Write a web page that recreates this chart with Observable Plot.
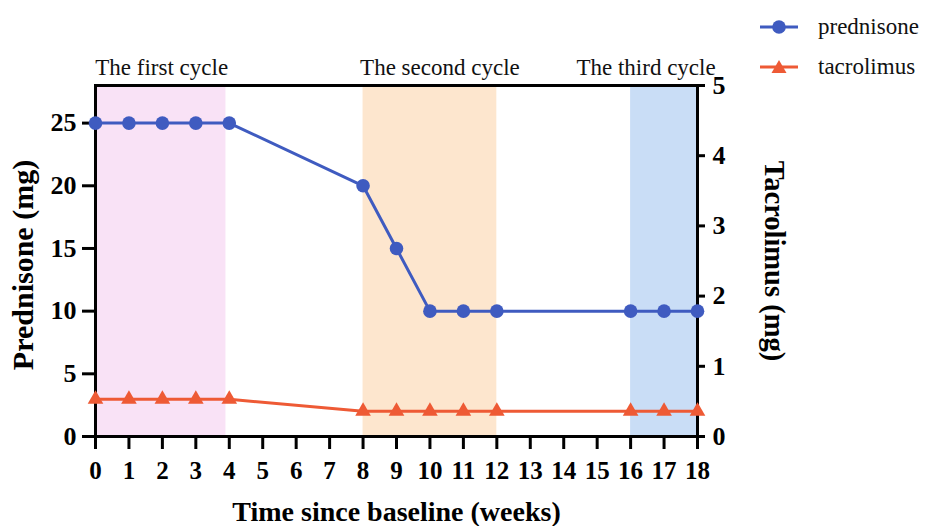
<!DOCTYPE html>
<html>
<head>
<meta charset="utf-8">
<script src="https://cdn.jsdelivr.net/npm/d3@7"></script>
<script src="https://cdn.jsdelivr.net/npm/@observablehq/plot@0.6"></script>
<style>
  body { margin: 0; background: white; }
  #wrap { position: relative; width: 927px; height: 526px; font-family: "Liberation Serif", "Times New Roman", serif; }
  #legend { position: absolute; left: 758px; top: 12px; font-size: 23px; color: #111; font-family: "Liberation Serif", "Times New Roman", serif; }
  #legend span { font-family: "Liberation Serif", "Times New Roman", serif; }
  .row { display: flex; align-items: center; height: 30px; margin-bottom: 10px; }
  .row svg { margin-right: 18px; }
</style>
</head>
<body>
<div id="wrap">
  <div id="chart"></div>
  <div id="legend"></div>
</div>
<script>
const weeks = [0, 1, 2, 3, 4, 8, 9, 10, 11, 12, 16, 17, 18];
const prednisone = [25, 25, 25, 25, 25, 20, 15, 10, 10, 10, 10, 10, 10];
const tacrolimus = [0.53, 0.53, 0.53, 0.53, 0.53, 0.36, 0.36, 0.36, 0.36, 0.36, 0.36, 0.36, 0.36];
const cycleLabels = ["The first cycle", "The second cycle", "The third cycle"];
const cycleStart = [0, 8, 16];
const cycleEnd = [3.9, 12, 18];
const xTicks = d3.range(0, 19);
const leftTicks = [0, 5, 10, 15, 20, 25];
const rightTicks = [0, 1, 2, 3, 4, 5];
const leftMax = 28, rightMax = 5;

const seriesNames = ["prednisone", "tacrolimus"];
const seriesColors = ["#3F5BC0", "#EE5A35"];
const bandColors = ["#F9E2F6", "#FDE6CE", "#C9DDF6"];
const cycleDx = [1, 10, -18];

const toLeft = v => v * leftMax / rightMax;
const pred = weeks.map((w, i) => ({week: w, value: prednisone[i]}));
const tac = weeks.map((w, i) => ({week: w, value: toLeft(tacrolimus[i])}));
const cycles = cycleLabels.map((l, i) => ({label: l, start: cycleStart[i], end: cycleEnd[i], mid: (cycleStart[i] + cycleEnd[i]) / 2}));

const font = "Liberation Serif";
const chart = Plot.plot({
  width: 927, height: 526,
  marginLeft: 95, marginRight: 230, marginTop: 85, marginBottom: 90,
  x: {domain: [0, 18]},
  y: {domain: [0, leftMax]},
  style: {fontFamily: font, background: "white", color: "black"},
  marks: [
    ...cycles.map((c, i) => Plot.rect([c], {x1: "start", x2: "end", fill: bandColors[i]})),
    Plot.frame({stroke: "black", strokeWidth: 3}),
    Plot.axisX({ticks: xTicks, tickSize: 13, tickPadding: 12, strokeWidth: 3, fontSize: 25, fontWeight: "bold", label: null, tickFormat: d => d}),
    Plot.axisY({ticks: leftTicks, anchor: "left", tickSize: 13, tickPadding: 6, strokeWidth: 3, fontSize: 26, fontWeight: "bold", label: null}),
    Plot.axisY({ticks: rightTicks.map(toLeft), anchor: "right", tickSize: 7, tickPadding: 8, strokeWidth: 3, fontSize: 26, fontWeight: "bold", label: null, tickFormat: d => Math.round(d * rightMax / leftMax)}),
    Plot.line(tac, {x: "week", y: "value", stroke: seriesColors[1], strokeWidth: 3}),
    Plot.dot(tac, {x: "week", y: "value", symbol: "triangle", r: 5.8, fill: seriesColors[1], stroke: "none"}),
    Plot.line(pred, {x: "week", y: "value", stroke: seriesColors[0], strokeWidth: 3}),
    Plot.dot(pred, {x: "week", y: "value", r: 6.8, fill: seriesColors[0], stroke: "none"}),
    ...cycles.map((c, i) => Plot.text([c], {x: "mid", text: "label", frameAnchor: "top", lineAnchor: "middle", dy: -17.5, dx: cycleDx[i], fontSize: 23, fill: "#111"})),
    Plot.text(["Prednisone (mg)"], {frameAnchor: "left", textAnchor: "middle", lineAnchor: "middle", rotate: -90, dx: -72, dy: 4, fontSize: 30, fontWeight: "bold", fill: "black"}),
    Plot.text(["Tacrolimus (mg)"], {frameAnchor: "right", textAnchor: "middle", lineAnchor: "middle", rotate: 90, dx: 77, fontSize: 28.5, fontWeight: "bold", fill: "black"}),
    Plot.text(["Time since baseline (weeks)"], {frameAnchor: "bottom", lineAnchor: "middle", dy: 76, fontSize: 28, fontWeight: "bold", fill: "black"})
  ]
});
document.getElementById("chart").appendChild(chart);

const legend = document.getElementById("legend");
seriesNames.forEach((name, i) => {
  const row = document.createElement("div");
  row.className = "row";
  const icon = i === 0
    ? `<circle cx="21" cy="10" r="6.8" fill="${seriesColors[i]}"/>`
    : `<path d="M21,3 L28.5,16 L13.5,16 Z" fill="${seriesColors[i]}"/>`;
  row.innerHTML = `<svg width="42" height="20"><line x1="2" x2="40" y1="10" y2="10" stroke="${seriesColors[i]}" stroke-width="3"/>${icon}</svg><span>${name}</span>`;
  legend.appendChild(row);
});
</script>
</body>
</html>
